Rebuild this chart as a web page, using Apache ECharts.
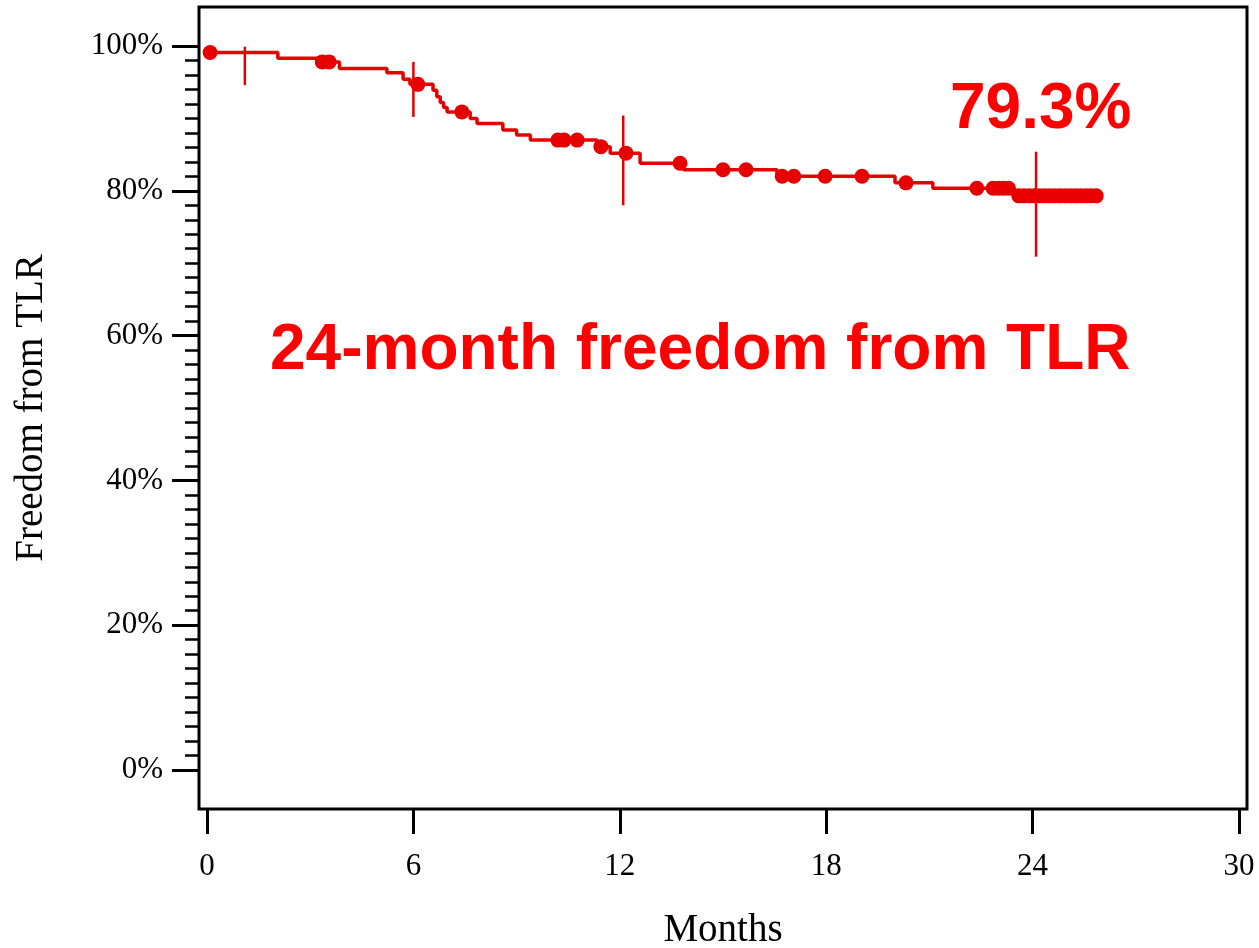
<!DOCTYPE html>
<html>
<head>
<meta charset="utf-8">
<script src="https://cdn.jsdelivr.net/npm/echarts@6/dist/echarts.min.js"></script>
<style>
html, body { margin: 0; padding: 0; background: #fff; }
#main { width: 1259px; height: 948px; }
</style>
</head>
<body>
<div id="main"></div>
<script>
// Kaplan-Meier step curve (month, % free from TLR)
var kmMonths = [0, 2.06, 3.3, 3.85, 5.23, 5.7, 5.9, 6.57, 6.68, 6.78, 6.88, 6.98, 7.65, 7.85, 8.6, 9.0, 9.4, 11.34, 11.72, 12.59, 13.85, 16.57, 20.0, 21.1, 23.43, 25.9];
var kmSurv   = [99.1, 98.3, 97.8, 96.9, 96.3, 95.4, 94.7, 93.9, 93.0, 92.2, 91.5, 90.9, 90.0, 89.3, 88.4, 87.7, 87.0, 86.1, 85.2, 83.8, 82.9, 82.0, 81.1, 80.35, 79.3, 79.3];

// censored observations (dots)
var censorMonths = [0.09, 3.35, 3.55, 6.13, 7.41, 10.2, 10.38, 10.76, 11.45, 12.18, 13.75, 15.0, 15.67, 16.72, 17.06, 17.97, 19.04, 20.32, 22.38,
    22.85, 23.0, 23.15, 23.3, 23.6, 23.75, 23.9, 24.05, 24.2, 24.35, 24.5, 24.65, 24.8, 24.95, 25.1, 25.25, 25.4, 25.55, 25.7, 25.85];
var censorSurv = [99.1, 97.8, 97.8, 94.7, 90.9, 87.0, 87.0, 87.0, 86.1, 85.2, 83.8, 82.9, 82.9, 82.0, 82.0, 82.0, 82.0, 81.1, 80.35,
    80.35, 80.35, 80.35, 80.35, 79.3, 79.3, 79.3, 79.3, 79.3, 79.3, 79.3, 79.3, 79.3, 79.3, 79.3, 79.3, 79.3, 79.3, 79.3, 79.3];

// confidence interval bars
var ciMonths = [1.1, 6.0, 12.1, 24.1];
var ciLow    = [94.6, 90.2, 78.0, 70.9];
var ciHigh   = [99.9, 97.8, 90.4, 85.4];

var RED = '#e60000';
var SERIF = '"Liberation Serif", "DejaVu Serif", serif';

var kmData = kmMonths.map(function (m, i) { return [m, kmSurv[i]]; });
var censorData = censorMonths.map(function (m, i) { return [m, censorSurv[i]]; });
var ciData = ciMonths.map(function (m, i) { return [m, ciLow[i], ciHigh[i]]; });

var chart = echarts.init(document.getElementById('main'));
var option = {
    animation: false,
    backgroundColor: '#fff',
    grid: [
        // frame box
        { left: 199, top: 7, width: 1048, height: 802, show: true, borderColor: '#000', borderWidth: 3,
          backgroundColor: 'transparent', outerBoundsMode: 'none' },
        // data area
        { left: 207, top: 46, width: 1032, height: 724, outerBoundsMode: 'none' }
    ],
    xAxis: [
        { gridIndex: 0, type: 'value', show: false, min: 0, max: 1 },
        {
            gridIndex: 1, type: 'value', min: 0, max: 30, interval: 6, offset: 39,
            axisLine: { show: false, onZero: false },
            axisTick: { show: true, length: 25, lineStyle: { color: '#000', width: 3 } },
            splitLine: { show: false },
            axisLabel: { fontFamily: SERIF, fontSize: 31, color: '#000', margin: 42 },
            name: 'Months', nameLocation: 'middle', nameGap: 102,
            nameTextStyle: { fontFamily: SERIF, fontSize: 39, color: '#000' }
        }
    ],
    yAxis: [
        { gridIndex: 0, type: 'value', show: false, min: 0, max: 1 },
        {
            gridIndex: 1, type: 'value', min: 0, max: 100, interval: 20, offset: 8,
            axisLine: { show: false, onZero: false },
            axisTick: { show: true, length: 27, lineStyle: { color: '#000', width: 3 } },
            minorTick: { show: true, splitNumber: 10, length: 14, lineStyle: { color: '#000', width: 2.5 } },
            splitLine: { show: false },
            minorSplitLine: { show: false },
            axisLabel: { formatter: '{value}%', fontFamily: SERIF, fontSize: 31, color: '#000', margin: 36 },
            name: 'Freedom from TLR', nameLocation: 'middle', nameGap: 148,
            nameTextStyle: { fontFamily: SERIF, fontSize: 39, color: '#000' }
        }
    ],
    series: [
        {
            type: 'line', xAxisIndex: 1, yAxisIndex: 1, data: kmData, step: 'end',
            showSymbol: false, lineStyle: { color: RED, width: 3.5 }
        },
        {
            type: 'scatter', xAxisIndex: 1, yAxisIndex: 1, data: censorData,
            symbolSize: 15, itemStyle: { color: RED, opacity: 1 }
        },
        {
            type: 'custom', xAxisIndex: 1, yAxisIndex: 1, data: ciData,
            encode: { x: 0, y: [1, 2] },
            renderItem: function (params, api) {
                var p1 = api.coord([api.value(0), api.value(1)]);
                var p2 = api.coord([api.value(0), api.value(2)]);
                return {
                    type: 'line',
                    shape: { x1: p1[0], y1: p1[1], x2: p2[0], y2: p2[1] },
                    style: { stroke: RED, lineWidth: 2.5 }
                };
            }
        }
    ],
    graphic: [
        {
            type: 'text', left: 950, top: 78,
            style: { text: '79.3%', font: 'bold 64px "Liberation Sans", Arial, sans-serif', fill: '#ff0000' }
        },
        {
            type: 'text', left: 270, top: 319,
            style: { text: '24-month freedom from TLR', font: 'bold 64px "Liberation Sans", Arial, sans-serif', fill: '#ff0000' }
        }
    ]
};
chart.setOption(option);
</script>
</body>
</html>
